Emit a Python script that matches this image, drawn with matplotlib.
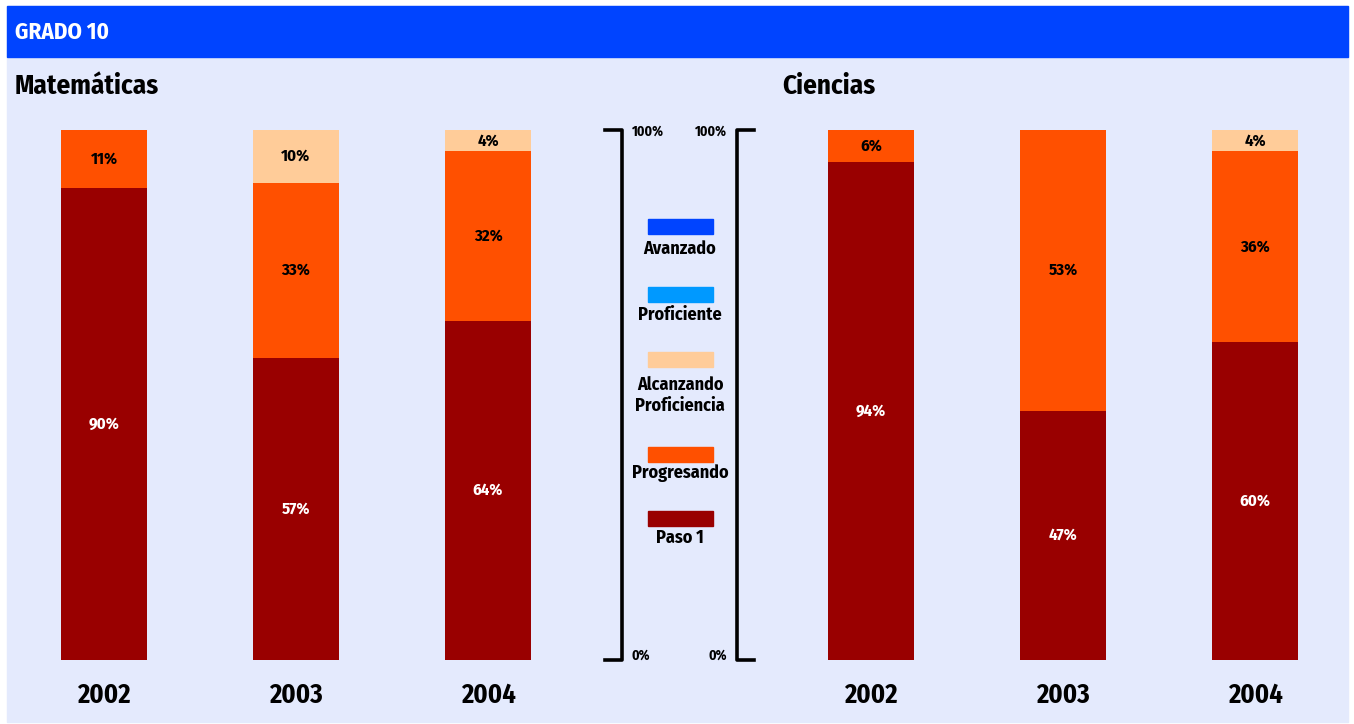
import matplotlib.pyplot as plt
from matplotlib.patches import Rectangle

# narrow bold face is closest to the original; DejaVu condensed as fallback
plt.rcParams['font.family'] = ['Fira Sans Condensed', 'DejaVu Sans']
plt.rcParams['font.stretch'] = 'condensed'
plt.rcParams['font.weight'] = 'bold'

years = ['2002', '2003', '2004']
levels = ['Paso 1', 'Progresando', 'Alcanzando\nProficiencia', 'Proficiente', 'Avanzado']
colors = ['#990000', '#FF5000', '#FFCC99', '#0099FF', '#0044FF']
label_colors = ['white', 'black', 'black', 'black', 'white']

# percent per level (Paso 1, Progresando, Alcanzando, Proficiente, Avanzado)
mat = [[90, 11, 0, 0, 0],
       [57, 33, 10, 0, 0],
       [64, 32, 4, 0, 0]]
cie = [[94, 6, 0, 0, 0],
       [47, 53, 0, 0, 0],
       [60, 36, 4, 0, 0]]

W, H = 1354, 724
fig = plt.figure(figsize=(W / 100, H / 100), dpi=100)
fig.patch.set_facecolor('white')

def fx(x):
    return x / W

def fy(y):
    return 1 - y / H

bg = '#E4EAFD'
fig.patches.append(Rectangle((fx(7), fy(722)), fx(1348) - fx(7), fy(6) - fy(722),
                             transform=fig.transFigure, color=bg, zorder=-2))
fig.patches.append(Rectangle((fx(7), fy(57)), fx(1348) - fx(7), fy(6) - fy(57),
                             transform=fig.transFigure, color='#0044FF', zorder=-1))
fig.text(fx(15), fy(32), 'GRADO 10', color='white', fontsize=16.5, va='center', ha='left')

y0, y1 = 660, 130

def panel(left, data, title):
    ax = fig.add_axes([fx(left), fy(y0), fx(576), fy(y1) - fy(y0)])
    ax.set_xlim(-0.5, 2.5)
    ax.set_ylim(0, 100)
    ax.axis('off')
    for i, row in enumerate(data):
        total = sum(row)
        bottom = 0
        for k, v in enumerate(row):
            if v == 0:
                continue
            h = v / total * 100
            ax.bar(i, h, width=0.453, bottom=bottom, color=colors[k], linewidth=0)
            ax.text(i, bottom + h / 2, f'{v}%', ha='center', va='center',
                    color=label_colors[k], fontsize=12)
            bottom += h
        ax.text(i, -6.7, years[i], ha='center', va='center', fontsize=19,
                clip_on=False)
    fig.text(fx(left + 7), fy(86), title, fontsize=19.5, va='center', ha='left')
    return ax

panel(8, mat, 'Matemáticas')
panel(775, cie, 'Ciencias')

# scale brackets
lw = 2.6
fig.lines.append(plt.Line2D([fx(605), fx(622), fx(622), fx(605)],
                            [fy(y1), fy(y1), fy(y0), fy(y0)],
                            transform=fig.transFigure, color='black', lw=lw))
fig.lines.append(plt.Line2D([fx(754), fx(737), fx(737), fx(754)],
                            [fy(y1), fy(y1), fy(y0), fy(y0)],
                            transform=fig.transFigure, color='black', lw=lw))
fig.text(fx(632), fy(132), '100%', fontsize=10, va='center', ha='left')
fig.text(fx(632), fy(656), '0%', fontsize=10, va='center', ha='left')
fig.text(fx(727), fy(132), '100%', fontsize=10, va='center', ha='right')
fig.text(fx(727), fy(656), '0%', fontsize=10, va='center', ha='right')

# legend
swatch_y = [519, 455, 360, 295, 227]
label_y = [538, 473, 395, 315, 249]
for k in range(len(levels)):
    fig.patches.append(Rectangle((fx(648), fy(swatch_y[k] + 7)), fx(65), fy(0) - fy(15),
                                 transform=fig.transFigure, color=colors[k]))
    fig.text(fx(680), fy(label_y[k]), levels[k], fontsize=13, ha='center', va='center',
             linespacing=1.25)

fig.savefig('out.png', dpi=100, facecolor=fig.get_facecolor())
